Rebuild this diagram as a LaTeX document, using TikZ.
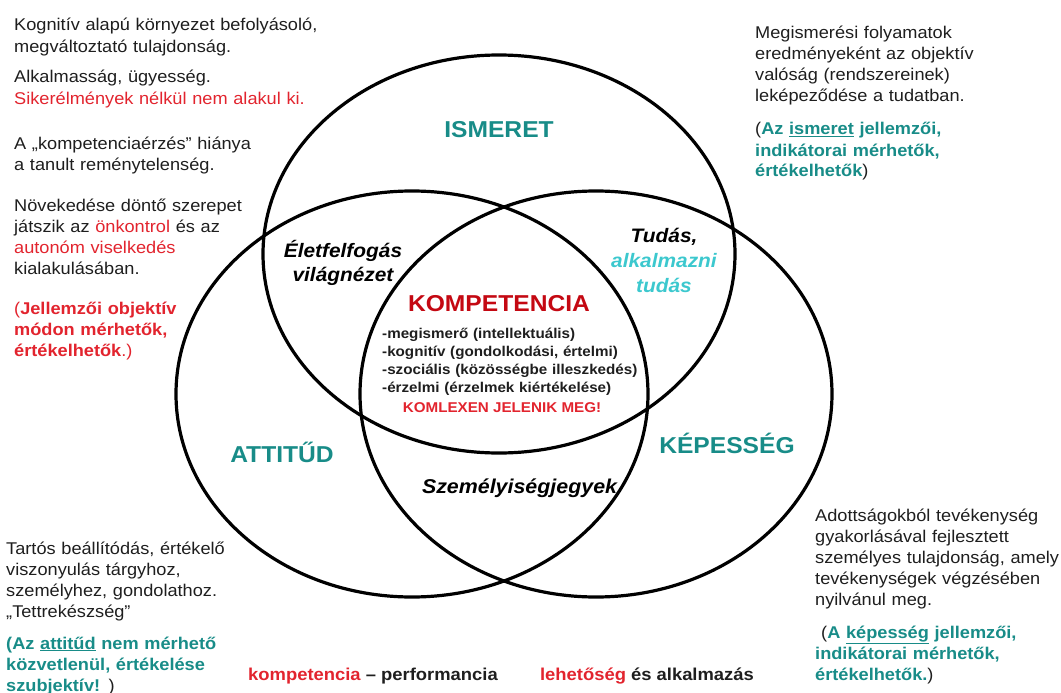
\documentclass[tikz,border=0pt]{standalone}
\usepackage{fontspec}
\setmainfont[FakeStretch=1.07]{Liberation Sans}
\definecolor{ink}{RGB}{30,30,30}
\definecolor{tealk}{RGB}{24,140,136}
\definecolor{redk}{RGB}{226,36,46}
\definecolor{darkredk}{RGB}{196,8,18}
\definecolor{cyank}{RGB}{60,200,206}
\newcommand{\warn}[1]{\textcolor{redk}{#1}}
\newcommand{\meas}{\color{tealk}\bfseries}
\tikzset{
  ring/.style = {draw=black, line width=3.2pt},
  side_txt/.style = {inner sep=0pt, anchor=base west, align=left, text width=330pt,
    text=ink, font=\fontsize{17}{21}\selectfont},% szoveg a margon
  set_lbl/.style = {inner sep=0pt, anchor=base, text=tealk,
    font=\fontsize{23}{27}\selectfont\bfseries},% halmaz neve
  zone_lbl/.style = {inner sep=0pt, anchor=base, align=center, text width=170pt,
    text=black, font=\fontsize{19.5}{24}\selectfont\bfseries\itshape},% metszet
  core_lst/.style = {inner sep=0pt, anchor=base west, align=left, text width=300pt,
    text=ink, font=\fontsize{14.2}{18.3}\selectfont\bfseries},
  foot_lbl/.style = {inner sep=0pt, anchor=base, text=ink,
    font=\fontsize{17.2}{20}\selectfont\bfseries}
}
\begin{document}
\begin{tikzpicture}[x=1pt, y=-1pt]
  \useasboundingbox (0,0) rectangle (1061,693);
  \coordinate (c_ism) at (499,254);
  \coordinate (c_att) at (412,394);
  \coordinate (c_kep) at (596,394);
  \draw[ring] (c_ism) ellipse [x radius=236pt, y radius=199pt];
  \foreach \c in {c_att, c_kep}
    \draw[ring] (\c) ellipse [x radius=236pt, y radius=203pt];

  % halmazok
  \node[set_lbl] (lbl_ism) at (499,137) {ISMERET};
  \node[set_lbl] (lbl_att) at (282,462) {ATTITŰD};
  \node[set_lbl] (lbl_kep) at (727,453) {KÉPESSÉG};

  % metszetek
  \node[zone_lbl] (zone_elet) at (343,257) {Életfelfogás\\ világnézet};
  \node[zone_lbl, font=\fontsize{19.5}{25}\selectfont\bfseries\itshape]
    (zone_tud) at (664,242) {Tudás,\\ {\color{cyank}alkalmazni\\ tudás}};
  \node[zone_lbl, font=\fontsize{20}{24}\selectfont\bfseries\itshape]
    (zone_szem) at (507,493) {Személyiségjegyek};

  % kozep
  \node[set_lbl, text=darkredk] (core) at (499,311) {KOMPETENCIA};
  \node[core_lst] (core_lst) at (382,338)
    {-megismerő (intellektuális)\\ -kognitív (gondolkodási, értelmi)\\
     -szociális (közösségbe illeszkedés)\\ -érzelmi (érzelmek kiértékelése)};
  \node[inner sep=0pt, anchor=base, text=redk, font=\fontsize{14.2}{18}\selectfont\bfseries]
    (core_note) at (502,412) {KOMLEXEN JELENIK MEG!};

  % bal oldal
  \node[side_txt] (txt_kog) at (14,31) {Kognitív alapú környezet befolyásoló,\\ megváltoztató tulajdonság.};
  \node[side_txt] (txt_alk) at (14,83) {Alkalmasság, ügyesség.\\ \warn{Sikerélmények nélkül nem alakul ki.}};
  \node[side_txt] (txt_erz) at (14,149) {A „kompetenciaérzés” hiánya\\ a tanult reménytelenség.};
  \node[side_txt] (txt_nov) at (14,211) {Növekedése döntő szerepet\\ játszik az \warn{önkontrol} és az\\
    \warn{autonóm viselkedés}\\ kialakulásában.};
  \node[side_txt, text=redk] (txt_jell) at (14,314) {({\bfseries Jellemzői objektív\\ módon mérhetők,\\ értékelhetők}.)};

  % jobb oldal
  \node[side_txt] (txt_meg) at (755,39) {Megismerési folyamatok\\ eredményeként az objektív\\
    valóság (rendszereinek)\\ leképeződése a tudatban.};
  \node[side_txt] (txt_ism) at (755,135) {({\meas Az \underline{ismeret} jellemzői,\\ indikátorai mérhetők,\\ értékelhetők})};
  \node[side_txt] (txt_ado) at (815,521) {Adottságokból tevékenység\\ gyakorlásával fejlesztett\\
    személyes tulajdonság, amely\\ tevékenységek végzésében\\ nyilvánul meg.};
  \node[side_txt] (txt_kep) at (815,638) {\hspace*{6pt}({\meas A \underline{képesség} jellemzői,\\ indikátorai mérhetők,\\ értékelhetők.})};

  % lent
  \node[side_txt] (txt_tar) at (6,554) {Tartós beállítódás, értékelő\\ viszonyulás tárgyhoz,\\
    személyhez, gondolathoz.\\ „Tettrekészség”};
  \node[side_txt] (txt_att) at (6,649) {{\meas (Az \underline{attitűd} nem mérhető\\ közvetlenül, értékelése\\ szubjektív!} )};
  \node[foot_lbl] (foot_kom) at (373,680) {\warn{kompetencia} – performancia};
  \node[foot_lbl] (foot_leh) at (647,680) {\warn{lehetőség} és alkalmazás};
\end{tikzpicture}
\end{document}
